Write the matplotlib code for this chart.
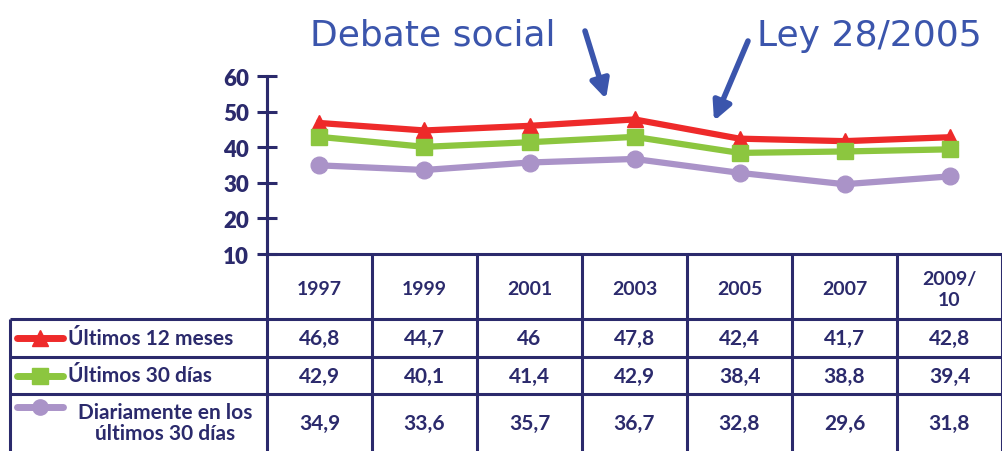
import matplotlib.pyplot as plt

years = ["1997", "1999", "2001", "2003", "2005", "2007", "2009/\n10"]
ult12 = [46.8, 44.7, 46.0, 47.8, 42.4, 41.7, 42.8]
ult30 = [42.9, 40.1, 41.4, 42.9, 38.4, 38.8, 39.4]
diario = [34.9, 33.6, 35.7, 36.7, 32.8, 29.6, 31.8]
labels = ["Últimos 12 meses", "Últimos 30 días", "Diariamente en los\núltimos 30 días"]
yticks = [10, 20, 30, 40, 50, 60]

NAVY = "#2B2A6C"
BLUE = "#3B55AC"
colors = ["#EE2A2A", "#8CC63F", "#AA93C8"]
markers = ["^", "s", "o"]
FONT = ["Lato", "DejaVu Sans"]

W, H = 1003, 452
fig = plt.figure(figsize=(W / 100, H / 100), dpi=100)

# plot area in pixel coordinates
x0, x1, ytop, ybot = 267, 1002, 77, 255
ax = fig.add_axes([x0 / W, 1 - ybot / H, (x1 - x0) / W, (ybot - ytop) / H])
n = len(years)
xs = list(range(n))
for vals, c, m in zip([ult12, ult30, diario], colors, markers):
    ax.plot(xs, vals, color=c, lw=4.5, marker=m, ms=12, mec=c, zorder=3,
            solid_joinstyle="round")
ax.set_xlim(-0.5, n - 0.5)
ax.set_ylim(10, 60)
ax.set_yticks(yticks)
ax.set_yticklabels([str(t) for t in yticks], fontsize=16, fontweight="heavy",
                   color=NAVY, family=FONT)
ax.tick_params(axis="y", direction="inout", length=14, width=2.2, color=NAVY, pad=6)
ax.set_xticks([])
for s in ["top", "right"]:
    ax.spines[s].set_visible(False)
for s in ["left", "bottom"]:
    ax.spines[s].set_color(NAVY)
    ax.spines[s].set_linewidth(2.2)
ax.patch.set_alpha(0)

# table overlay in pixel coords
tab = fig.add_axes([0, 0, 1, 1], zorder=-1)
tab.set_xlim(0, W)
tab.set_ylim(H, 0)
tab.axis("off")
cw = (x1 - x0) / n
col_edges = [x0 + i * cw for i in range(n + 1)]
row_edges = [255, 320, 358, 395, 452]
lk = dict(color=NAVY, lw=2.2, solid_capstyle="butt")

for i, xe in enumerate(col_edges):
    tab.plot([xe, xe], [ytop if i == 0 else 255, H], **lk)
tab.plot([10, 10], [320, H], **lk)
for ye in row_edges[1:4]:
    tab.plot([10, x1], [ye, ye], **lk)

tk = dict(color=NAVY, fontweight="bold", family=FONT, ha="center", va="center")
for i, yr in enumerate(years):
    tab.text(x0 + (i + 0.5) * cw, 290, yr, fontsize=14, linespacing=1.3, **tk)

series = [ult12, ult30, diario]
for r, (vals, lab, c, m) in enumerate(zip(series, labels, colors, markers)):
    yc = (row_edges[r + 1] + row_edges[r + 2]) / 2
    for i, v in enumerate(vals):
        tab.text(x0 + (i + 0.5) * cw, yc, f"{v:g}".replace(".", ","), fontsize=15, **tk)
    ly = yc if r < 2 else 408
    tab.plot([17, 63], [ly, ly], color=c, lw=5, solid_capstyle="round")
    tab.plot([40], [ly], color=c, marker=m, ms=11, ls="none")
    if r < 2:
        tab.text(68, yc, lab, fontsize=15, color=NAVY, fontweight="bold",
                 family=FONT, ha="left", va="center")
    else:
        tab.text(165, yc, lab, fontsize=15, color=NAVY, fontweight="bold",
                 family=FONT, ha="center", va="center", linespacing=1.05)

# annotations
ak = dict(fontsize=26, color=BLUE, family=["Liberation Sans Narrow", "DejaVu Sans"])
tab.text(310, 36, "Debate social", ha="left", va="center", **ak)
tab.text(757, 36, "Ley 28/2005", ha="left", va="center", **ak)
arr = dict(arrowstyle="-|>", lw=4, color=BLUE, mutation_scale=28, shrinkA=0, shrinkB=0)
tab.annotate("", xy=(606, 100), xytext=(585, 32), arrowprops=arr)
tab.annotate("", xy=(714, 122), xytext=(748, 42), arrowprops=arr)

fig.savefig("out.png", dpi=100)
